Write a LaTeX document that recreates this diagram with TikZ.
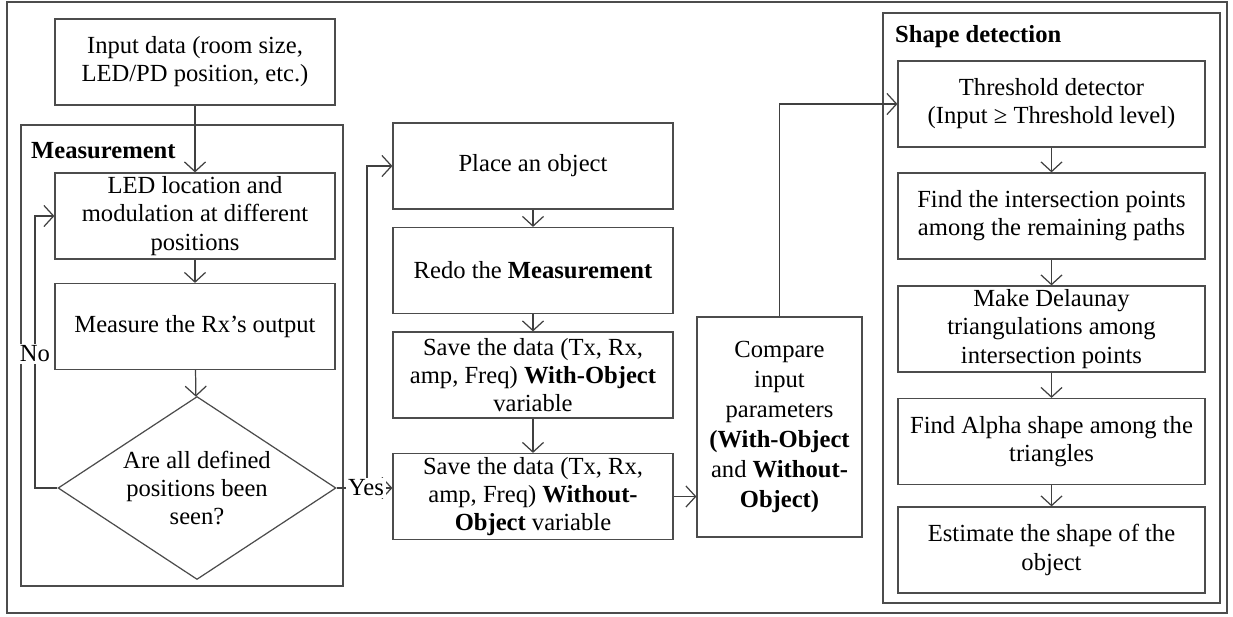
\documentclass[tikz,border=0pt]{standalone}
\usepackage{fontspec}
\setmainfont{Liberation Serif}
\usetikzlibrary{shapes.geometric,arrows.meta}

\begin{document}
\begin{tikzpicture}[x=0.02cm,y=-0.02cm,
	box/.style={draw=black!70,line width=0.7pt,align=center,inner sep=1pt,font=\fontsize{14}{16}\selectfont},
	wbox/.style={box,minimum width=5.6cm,minimum height=1.72cm},
	sbox/.style={box,minimum width=6.14cm,minimum height=1.72cm},
	flow/.style={draw=black!75,line width=0.7pt,-{Straight Barb[length=5.5pt,width=12pt]}},
	frame/.style={draw=black!70,line width=0.9pt},
	lbl/.style={fill=white,inner sep=1pt,font=\fontsize{14}{16}\selectfont}]
	\useasboundingbox (0,0) rectangle (1233,616);
	\draw[frame] (7,2) rectangle (1227,613);
	\draw[frame] (21,125) rectangle (343,586);
	\draw[frame] (883,13) rectangle (1220,603);
	\node[anchor=west,font=\fontsize{14}{16}\selectfont\bfseries] (measlabel) at (25,151) {Measurement};
	\node[anchor=west,font=\fontsize{14}{16}\selectfont\bfseries] (shapelabel) at (889,37) {Shape detection};
	\node[wbox] (input) at (195,62) {Input data (room size,\\LED/PD position, etc.)};
	\node[wbox] (led) at (195,216) {LED location and\\modulation at different\\positions};
	\node[wbox] (rx) at (195,326.5) {Measure the Rx’s output};
	\node[box,diamond,aspect=1.52,inner sep=0pt,minimum width=5.56cm,minimum height=3.66cm] (dia) at (197,488) {Are all defined\\positions been\\seen?};
	\node[wbox] (place) at (533,166) {Place an object};
	\node[wbox] (redo) at (533,270.5) {Redo the \textbf{Measurement}};
	\node[wbox] (savew) at (533,375) {Save the data (Tx, Rx,\\amp, Freq) \textbf{With-Object}\\variable};
	\node[wbox] (savewo) at (533,496.5) {Save the data (Tx, Rx,\\amp, Freq) \textbf{Without-}\\\textbf{Object} variable};
	\node[box,minimum width=3.3cm,minimum height=4.4cm,font=\fontsize{14}{17}\selectfont] (comp) at (779.5,427) {Compare\\input\\parameters\\\textbf{(With-Object}\\and \textbf{Without-}\\\textbf{Object)}};
	\node[sbox] (thr) at (1051.5,104) {Threshold detector\\(Input ≥ Threshold level)};
	\node[sbox] (inter) at (1051.5,216) {Find the intersection points\\among the remaining paths};
	\node[sbox] (delau) at (1051.5,329) {Make Delaunay\\triangulations among\\intersection points};
	\node[sbox] (alpha) at (1051.5,441.5) {Find Alpha shape among the\\triangles};
	\node[sbox] (estim) at (1051.5,550) {Estimate the shape of the\\object};
	\coordinate (noturn) at (35,488);
	\coordinate (yesturn) at (367,488);
	\draw[flow] (input) -- (led);
	\draw[flow] (led) -- (rx);
	\draw[flow] (rx) -- (dia);
	\draw[flow] (dia.west) -- (noturn) |- (led.west);
	\node[lbl] (no) at (35,354) {No};
	\draw[flow] (dia.east) -- (dia.east -| savewo.west);
	\draw[flow] (yesturn) |- (place.west);
	\node[lbl] (yes) at (366,488) {Yes};
	\draw[flow] (place) -- (redo);
	\draw[flow] (redo) -- (savew);
	\draw[flow] (savew) -- (savewo);
	\draw[flow] (savewo.east) -- (savewo.east -| comp.west);
	\draw[flow] (comp.north) |- (thr.west);
	\draw[flow] (thr) -- (inter);
	\draw[flow] (inter) -- (delau);
	\draw[flow] (delau) -- (alpha);
	\draw[flow] (alpha) -- (estim);
\end{tikzpicture}
\end{document}
